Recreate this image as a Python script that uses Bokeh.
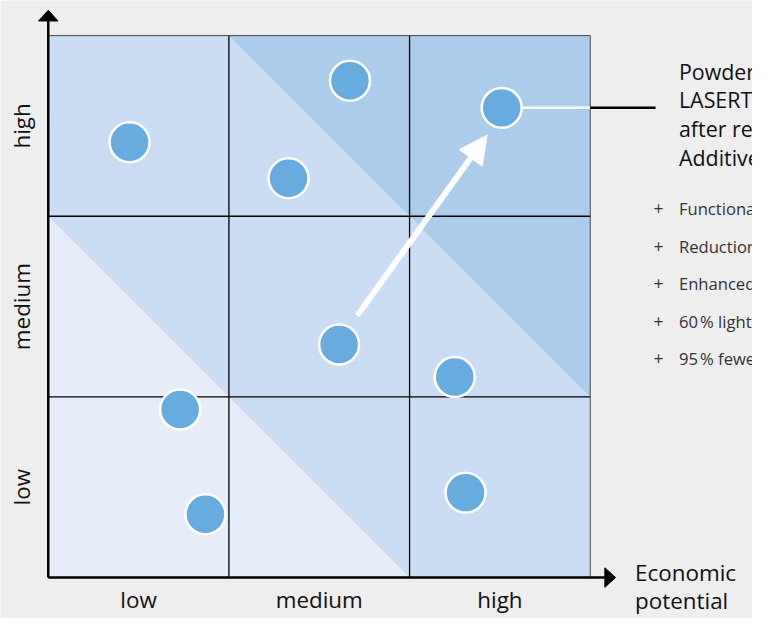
import math
from bokeh.plotting import figure
from bokeh.models import Range1d, Arrow, NormalHead
from bokeh.core.properties import value
from bokeh.embed import file_html
from bokeh.resources import INLINE

# ---------------- data ----------------
levels = ["low", "medium", "high"]
level_pos = [0.5, 1.5, 2.5]

# shaded zones of the 3x3 matrix (bounded by x+y=2 and x+y=4)
zone_light_x = [0, 2, 0]
zone_light_y = [0, 0, 2]
zone_mid_x = [2, 3, 3, 1, 0, 0]
zone_mid_y = [0, 0, 1, 3, 3, 2]
zone_dark_x = [3, 3, 1]
zone_dark_y = [1, 3, 3]

# components (x = economic potential, y = technical potential)
point_x = [0.45, 1.67, 1.33, 2.51, 1.61, 2.25, 0.73, 0.87, 2.31]
point_y = [2.41, 2.75, 2.21, 2.60, 1.29, 1.11, 0.93, 0.35, 0.47]
highlight_index = 3

arrow_start = [1.71, 1.45]
arrow_end = [2.43, 2.45]

title_lines = ["Powder nozzle of a", "LASERTEC 65 3D", "after redesign for", "Additive Manufacturing"]
benefits = ["Functional integration", "Reduction of assembly effort",
            "Enhanced powder flow", "60\u202f% lighter", "95\u202f% fewer parts"]
x_title_lines = ["Economic", "potential"]

# ---------------- layout ----------------
W, H = 752, 618
REF_W, REF_H = 768, 634      # design grid
K = H / REF_H                # uniform scale of the design into the canvas
U = 185.33                   # design pixels per matrix unit
OX, OY = 49, 592             # design pixel of matrix origin
x_range = Range1d(-OX / U, (W / K - OX) / U)
y_range = Range1d(-(REF_H - OY) / U, OY / U)

def px(n):
    return n / U

def fs(n):
    return "%.1fpx" % (n * K)

FONT = "Open Sans"
BG = "#eeeeee"
C_LIGHT, C_MID, C_DARK = "#e6edf9", "#cbddf4", "#abcdeb"
C_POINT = "#68acdf"

p = figure(width=W, height=H, x_range=x_range, y_range=y_range,
           output_backend="svg", toolbar_location=None,
           x_axis_location=None, y_axis_location=None,
           min_border=0, outline_line_color=None,
           background_fill_color=BG, border_fill_color=BG)
p.grid.visible = False

# zones
p.patch(zone_light_x, zone_light_y, fill_color=C_LIGHT, line_color=None)
p.patch(zone_mid_x, zone_mid_y, fill_color=C_MID, line_color=None)
p.patch(zone_dark_x, zone_dark_y, fill_color=C_DARK, line_color=None)

# grid lines
for v in [1, 2]:
    p.line([v, v], [0, 3], line_color="black", line_width=1.3)
    p.line([0, 3], [v, v], line_color="black", line_width=1.3)
# outer border
p.line([0, 3, 3], [3, 3, 0], line_color="#444444", line_width=1)

# axes with arrow heads
ax_len = px(571)
tip = px(582)
half = px(10)
p.line([0, 0], [0, ax_len], line_color="black", line_width=2.5)
p.line([0, ax_len], [0, 0], line_color="black", line_width=2.5)
p.patch([-half, half, 0], [ax_len, ax_len, tip], fill_color="black", line_color="black")
p.patch([ax_len, ax_len, tip], [-half, half, 0], fill_color="black", line_color="black")

# callout line from highlighted point
hx, hy = point_x[highlight_index], point_y[highlight_index]
p.line([hx, 3], [hy, hy], line_color="white", line_width=2.5)
p.line([3, px(672 - OX)], [hy, hy], line_color="black", line_width=2.5)

# development arrow
p.add_layout(Arrow(end=NormalHead(size=29 * K, fill_color="white", line_color="white"),
                   x_start=arrow_start[0], y_start=arrow_start[1],
                   x_end=arrow_end[0], y_end=arrow_end[1],
                   line_color="white", line_width=6 * K))

# points
p.scatter(point_x, point_y, size=41 * K, fill_color=C_POINT,
          line_color="white", line_width=2.5)

# tick labels
p.text(x=level_pos, y=[px(-23)] * 3, text=levels, text_font=value(FONT),
       text_font_size=fs(23), text_align="center", text_baseline="middle",
       text_color="#111111")
p.text(x=[px(-27)] * 3, y=level_pos, text=levels, text_font=value(FONT),
       text_font_size=fs(23), text_align="center", text_baseline="middle",
       text_color="#111111", angle=math.pi / 2)

# x axis title
p.text(x=[px(651 - OX)] * 2, y=[px(OY - 587), px(OY - 616)], text=x_title_lines,
       text_font=value(FONT), text_font_size=fs(23), text_align="left",
       text_baseline="middle", text_color="#111111")

# right-hand annotation
tx = px(696 - OX)
p.text(x=[tx] * 4, y=[px(OY - v) for v in [73, 102, 131, 161]], text=title_lines,
       text_font=value(FONT), text_font_size=fs(22), text_align="left",
       text_baseline="middle", text_color="#111111")
by = [px(OY - v) for v in [213, 252, 290, 329, 367]]
p.text(x=[px(675 - OX)] * 5, y=by, text=["+"] * 5, text_font=value(FONT),
       text_font_size=fs(18), text_align="center", text_baseline="middle",
       text_color="#333333")
p.text(x=[tx] * 5, y=by, text=benefits, text_font=value(FONT),
       text_font_size=fs(17), text_align="left", text_baseline="middle",
       text_color="#333333")

open("out.html", "w").write(file_html(p, INLINE))
